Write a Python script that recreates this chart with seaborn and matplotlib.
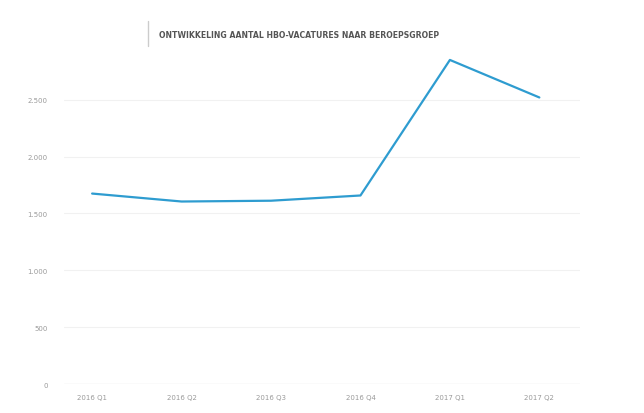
import pandas as pd
import numpy as np
import matplotlib.pyplot as plt
import seaborn as sns
from matplotlib.ticker import FuncFormatter

# data
kwartalen = ['2016 Q1', '2016 Q2', '2016 Q3', '2016 Q4', '2017 Q1', '2017 Q2']
vacatures = [1675, 1605, 1612, 1658, 2850, 2520]

df = pd.DataFrame({'kwartaal': kwartalen, 'vacatures': vacatures})
df['pos'] = np.arange(len(df))

sns.set_style('white')
plt.rcParams['font.family'] = ['DejaVu Sans']

fig = plt.figure(figsize=(6.44, 4.14), dpi=100)
ax = fig.add_axes([0.1, 0.07, 0.8, 0.824])

sns.lineplot(data=df, x='pos', y='vacatures', color='#2e9cd0', linewidth=1.6, ax=ax, sort=False)

ax.set_xlim(-0.31, 5.45)
ax.set_ylim(0, 3000)
ax.set_xticks(df['pos'])
ax.set_xticklabels(kwartalen)
ax.set_yticks([0, 500, 1000, 1500, 2000, 2500])
ax.yaxis.set_major_formatter(FuncFormatter(lambda v, p: f'{int(v):,}'.replace(',', '.')))
ax.tick_params(axis='both', length=0, labelsize=5, labelcolor='#9a9a9a')
ax.tick_params(axis='y', pad=12)
ax.tick_params(axis='x', pad=7)
ax.grid(axis='y', color='#f1f1f1', linewidth=0.8)
ax.set_xlabel('')
ax.set_ylabel('')
sns.despine(ax=ax, left=True, bottom=True, top=True, right=True)
ax.axhline(0, color='#eeeeee', linewidth=1)

# titel met verticale streep
fig.add_artist(plt.Line2D([148 / 644, 148 / 644], [1 - 22 / 414, 1 - 47 / 414], color='#cccccc', linewidth=1))
fig.text(159 / 644, 1 - 36 / 414, 'ONTWIKKELING AANTAL HBO-VACATURES NAAR BEROEPSGROEP',
         fontsize=5.6, fontweight='bold', color='#555555', va='center', ha='left')

plt.savefig('out.png', dpi=100)
